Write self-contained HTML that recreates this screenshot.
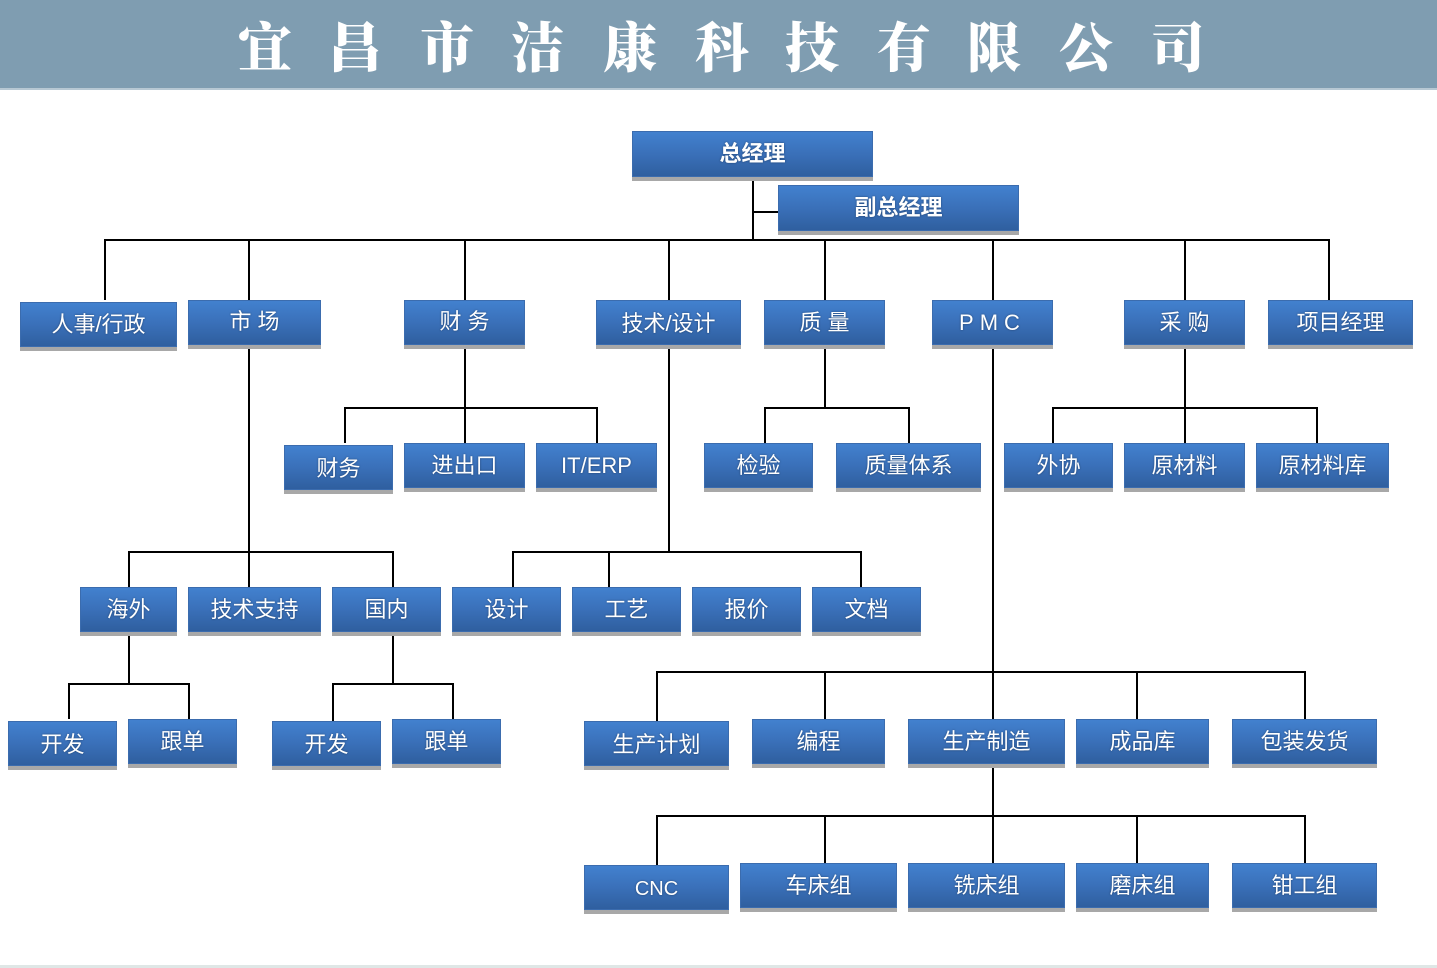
<!DOCTYPE html>
<html><head><meta charset="utf-8"><style>
html,body{margin:0;padding:0}
body{width:1437px;height:968px;position:relative;background:#fff;overflow:hidden;font-family:"Liberation Sans","Noto Sans CJK SC",sans-serif}
.hd{position:absolute;left:0;top:0;width:1437px;height:88px;background:#7f9db1;border-bottom:2px solid #b7c8d3}
.t{position:absolute;top:10px;font-family:"Noto Serif CJK SC","Noto Sans CJK SC",serif;font-weight:900;font-size:54px;color:#fff;width:70px;text-align:center;line-height:70px}
.b{position:absolute;box-sizing:border-box;background:linear-gradient(#4281cf,#3a70b9 50%,#2f5f9f);color:#fff;font-size:22px;text-align:center;box-shadow:0 4px 0 #a8a8a8;border:1px solid #3b6cae;text-shadow:0 0 2px rgba(0,0,0,.4)}
.l{position:absolute;background:#000}
.ft{position:absolute;left:0;top:965px;width:1437px;height:3px;background:#dfe7e6}
</style></head><body>
<div class="hd"></div>
<div class="t" style="left:230px">宜</div><div class="t" style="left:320px">昌</div><div class="t" style="left:412px">市</div><div class="t" style="left:503px">洁</div><div class="t" style="left:595px">康</div><div class="t" style="left:687px">科</div><div class="t" style="left:777px">技</div><div class="t" style="left:869px">有</div><div class="t" style="left:959px">限</div><div class="t" style="left:1051px">公</div><div class="t" style="left:1143px">司</div>

<!-- lines -->
<div class="l" style="left:752px;top:178px;width:2px;height:63px"></div>
<div class="l" style="left:752px;top:211px;width:26px;height:2px"></div>
<div class="l" style="left:104px;top:239px;width:1226px;height:2px"></div>
<div class="l" style="left:104px;top:239px;width:2px;height:61px"></div>
<div class="l" style="left:248px;top:239px;width:2px;height:61px"></div>
<div class="l" style="left:464px;top:239px;width:2px;height:61px"></div>
<div class="l" style="left:668px;top:239px;width:2px;height:61px"></div>
<div class="l" style="left:824px;top:239px;width:2px;height:61px"></div>
<div class="l" style="left:992px;top:239px;width:2px;height:61px"></div>
<div class="l" style="left:1184px;top:239px;width:2px;height:61px"></div>
<div class="l" style="left:1328px;top:239px;width:2px;height:61px"></div>
<!-- finance -->
<div class="l" style="left:464px;top:346px;width:2px;height:97px"></div>
<div class="l" style="left:344px;top:407px;width:254px;height:2px"></div>
<div class="l" style="left:344px;top:407px;width:2px;height:36px"></div>
<div class="l" style="left:596px;top:407px;width:2px;height:36px"></div>
<!-- quality -->
<div class="l" style="left:824px;top:346px;width:2px;height:62px"></div>
<div class="l" style="left:764px;top:407px;width:146px;height:2px"></div>
<div class="l" style="left:764px;top:407px;width:2px;height:36px"></div>
<div class="l" style="left:908px;top:407px;width:2px;height:36px"></div>
<!-- purchase -->
<div class="l" style="left:1184px;top:346px;width:2px;height:97px"></div>
<div class="l" style="left:1052px;top:407px;width:266px;height:2px"></div>
<div class="l" style="left:1052px;top:407px;width:2px;height:36px"></div>
<div class="l" style="left:1316px;top:407px;width:2px;height:36px"></div>
<!-- market -->
<div class="l" style="left:248px;top:346px;width:2px;height:241px"></div>
<div class="l" style="left:128px;top:551px;width:266px;height:2px"></div>
<div class="l" style="left:128px;top:551px;width:2px;height:36px"></div>
<div class="l" style="left:392px;top:551px;width:2px;height:36px"></div>
<!-- tech -->
<div class="l" style="left:668px;top:346px;width:2px;height:206px"></div>
<div class="l" style="left:512px;top:551px;width:350px;height:2px"></div>
<div class="l" style="left:512px;top:551px;width:2px;height:36px"></div>
<div class="l" style="left:608px;top:551px;width:2px;height:36px"></div>
<div class="l" style="left:860px;top:551px;width:2px;height:36px"></div>
<!-- overseas -->
<div class="l" style="left:128px;top:634px;width:2px;height:51px"></div>
<div class="l" style="left:68px;top:683px;width:122px;height:2px"></div>
<div class="l" style="left:68px;top:683px;width:2px;height:36px"></div>
<div class="l" style="left:188px;top:683px;width:2px;height:36px"></div>
<!-- domestic -->
<div class="l" style="left:392px;top:634px;width:2px;height:51px"></div>
<div class="l" style="left:332px;top:683px;width:122px;height:2px"></div>
<div class="l" style="left:332px;top:683px;width:2px;height:38px"></div>
<div class="l" style="left:452px;top:683px;width:2px;height:36px"></div>
<!-- PMC -->
<div class="l" style="left:992px;top:346px;width:2px;height:373px"></div>
<div class="l" style="left:656px;top:671px;width:650px;height:2px"></div>
<div class="l" style="left:656px;top:671px;width:2px;height:50px"></div>
<div class="l" style="left:824px;top:671px;width:2px;height:48px"></div>
<div class="l" style="left:1136px;top:671px;width:2px;height:48px"></div>
<div class="l" style="left:1304px;top:671px;width:2px;height:48px"></div>
<!-- production -->
<div class="l" style="left:992px;top:766px;width:2px;height:97px"></div>
<div class="l" style="left:656px;top:815px;width:650px;height:2px"></div>
<div class="l" style="left:656px;top:815px;width:2px;height:50px"></div>
<div class="l" style="left:824px;top:815px;width:2px;height:48px"></div>
<div class="l" style="left:1136px;top:815px;width:2px;height:48px"></div>
<div class="l" style="left:1304px;top:815px;width:2px;height:48px"></div>

<!-- boxes -->
<div class="b" style="left:632px;top:131px;width:241px;height:46px;line-height:44px;font-weight:bold">总经理</div>
<div class="b" style="left:778px;top:185px;width:241px;height:46px;line-height:44px;font-weight:bold">副总经理</div>

<div class="b" style="left:20px;top:302px;width:157px;height:45px;line-height:44px">人事/行政</div>
<div class="b" style="left:188px;top:300px;width:133px;height:45px;line-height:42px">市 场</div>
<div class="b" style="left:404px;top:300px;width:121px;height:45px;line-height:42px">财 务</div>
<div class="b" style="left:596px;top:300px;width:145px;height:45px;line-height:46px">技术/设计</div>
<div class="b" style="left:764px;top:300px;width:121px;height:45px;line-height:44px">质 量</div>
<div class="b" style="left:932px;top:300px;width:121px;height:45px;line-height:44px;letter-spacing:6px">PMC</div>
<div class="b" style="left:1124px;top:300px;width:121px;height:45px;line-height:44px">采 购</div>
<div class="b" style="left:1268px;top:300px;width:145px;height:45px;line-height:44px">项目经理</div>

<div class="b" style="left:284px;top:445px;width:109px;height:45px;line-height:46px">财务</div>
<div class="b" style="left:404px;top:443px;width:121px;height:45px;line-height:44px">进出口</div>
<div class="b" style="left:536px;top:443px;width:121px;height:45px;line-height:44px">IT/ERP</div>
<div class="b" style="left:704px;top:443px;width:109px;height:45px;line-height:44px">检验</div>
<div class="b" style="left:836px;top:443px;width:145px;height:45px;line-height:44px">质量体系</div>
<div class="b" style="left:1004px;top:443px;width:109px;height:45px;line-height:44px">外协</div>
<div class="b" style="left:1124px;top:443px;width:121px;height:45px;line-height:44px">原材料</div>
<div class="b" style="left:1256px;top:443px;width:133px;height:45px;line-height:44px">原材料库</div>

<div class="b" style="left:80px;top:587px;width:97px;height:45px;line-height:44px">海外</div>
<div class="b" style="left:188px;top:587px;width:133px;height:45px;line-height:44px">技术支持</div>
<div class="b" style="left:332px;top:587px;width:109px;height:45px;line-height:44px">国内</div>
<div class="b" style="left:452px;top:587px;width:109px;height:45px;line-height:44px">设计</div>
<div class="b" style="left:572px;top:587px;width:109px;height:45px;line-height:44px">工艺</div>
<div class="b" style="left:692px;top:587px;width:109px;height:45px;line-height:44px">报价</div>
<div class="b" style="left:812px;top:587px;width:109px;height:45px;line-height:44px">文档</div>

<div class="b" style="left:8px;top:721px;width:109px;height:45px;line-height:46px">开发</div>
<div class="b" style="left:128px;top:719px;width:109px;height:45px;line-height:44px">跟单</div>
<div class="b" style="left:272px;top:721px;width:109px;height:45px;line-height:46px">开发</div>
<div class="b" style="left:392px;top:719px;width:109px;height:45px;line-height:44px">跟单</div>
<div class="b" style="left:584px;top:721px;width:145px;height:45px;line-height:46px">生产计划</div>
<div class="b" style="left:752px;top:719px;width:133px;height:45px;line-height:44px">编程</div>
<div class="b" style="left:908px;top:719px;width:157px;height:45px;line-height:44px">生产制造</div>
<div class="b" style="left:1076px;top:719px;width:133px;height:45px;line-height:44px">成品库</div>
<div class="b" style="left:1232px;top:719px;width:145px;height:45px;line-height:44px">包装发货</div>

<div class="b" style="left:584px;top:865px;width:145px;height:45px;line-height:46px;font-size:20px">CNC</div>
<div class="b" style="left:740px;top:863px;width:157px;height:45px;line-height:44px">车床组</div>
<div class="b" style="left:908px;top:863px;width:157px;height:45px;line-height:44px">铣床组</div>
<div class="b" style="left:1076px;top:863px;width:133px;height:45px;line-height:44px">磨床组</div>
<div class="b" style="left:1232px;top:863px;width:145px;height:45px;line-height:44px">钳工组</div>

<div class="ft"></div>
</body></html>
